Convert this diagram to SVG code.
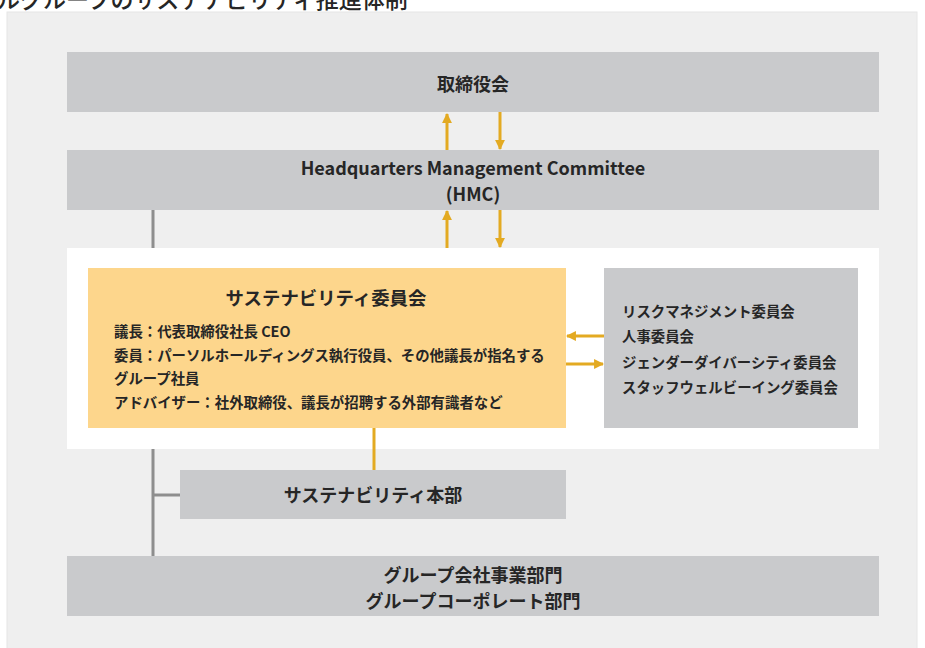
<svg xmlns="http://www.w3.org/2000/svg" width="925" height="648" viewBox="0 0 925 648">
<defs>
<style>
.box{fill:#c9cacc}
.t{font-family:"Noto Sans CJK JP","Liberation Sans",sans-serif;font-weight:bold;fill:#262626}
.lbl{font-size:18px;text-anchor:middle}
.body{font-size:14.4px}
.gline{stroke:#8e8e8e;stroke-width:3;fill:none}
.yline{stroke:#e3aa22;stroke-width:3;fill:none}
.arr{stroke:#e3aa22;stroke-width:3;fill:none;marker-end:url(#ah)}
</style>
<marker id="ah" viewBox="0 0 10 10" refX="9" refY="5" markerWidth="3.3" markerHeight="3.3" orient="auto" markerUnits="strokeWidth">
<path d="M0,0 L10,5 L0,10 Z" fill="#e3aa22"/>
</marker>
</defs>
<rect width="925" height="648" fill="#ffffff"/>
<text class="t" x="-3" y="7.5" style="font-size:23px;font-weight:500">ルグループのサステナビリティ推進体制</text>
<rect x="7" y="12" width="910" height="640" fill="#efefef" stroke="#e6e6e6" stroke-width="1"/>

<g id="connectors">
<line class="gline" x1="153" y1="210" x2="153" y2="556"/>
<line class="gline" x1="153" y1="495" x2="180" y2="495"/>
</g>

<g id="board">
<rect class="box" x="67" y="52" width="812" height="60"/>
<text class="t lbl" x="473" y="91">取締役会</text>
</g>
<g id="hmc">
<rect class="box" x="67" y="150" width="812" height="60"/>
<text class="t lbl" x="473" y="175">Headquarters Management Committee</text>
<text class="t lbl" x="473" y="201">(HMC)</text>
</g>
<g id="panel">
<rect x="67" y="248" width="812" height="201" fill="#ffffff"/>
</g>
<g id="sustainability-committee">
<rect x="88" y="268" width="478" height="160" fill="#fdd68c"/>
<text class="t" x="326" y="305" style="font-size:18.4px;text-anchor:middle">サステナビリティ委員会</text>
<text class="t body" x="114" y="337">議長：代表取締役社長 CEO</text>
<text class="t body" x="114" y="361">委員：パーソルホールディングス執行役員、その他議長が指名する</text>
<text class="t body" x="114" y="384">グループ社員</text>
<text class="t body" x="114" y="408">アドバイザー：社外取締役、議長が招聘する外部有識者など</text>
</g>
<g id="other-committees">
<rect class="box" x="604" y="268" width="254" height="160"/>
<text class="t body" x="622" y="317">リスクマネジメント委員会</text>
<text class="t body" x="622" y="342">人事委員会</text>
<text class="t body" x="622" y="368">ジェンダーダイバーシティ委員会</text>
<text class="t body" x="622" y="393">スタッフウェルビーイング委員会</text>
</g>
<g id="sustainability-hq">
<rect class="box" x="180" y="470" width="386" height="49"/>
<text class="t lbl" x="373" y="502">サステナビリティ本部</text>
</g>
<g id="group">
<rect class="box" x="67" y="556" width="812" height="60"/>
<text class="t lbl" x="473" y="582">グループ会社事業部門</text>
<text class="t lbl" x="473" y="608">グループコーポレート部門</text>
</g>

<g id="arrows">
<line class="arr" x1="447" y1="150" x2="447" y2="114"/>
<line class="arr" x1="500" y1="112" x2="500" y2="149"/>
<line class="arr" x1="447" y1="248" x2="447" y2="211"/>
<line class="arr" x1="500" y1="210" x2="500" y2="247"/>
<line class="arr" x1="604" y1="336" x2="567" y2="336"/>
<line class="arr" x1="566" y1="364" x2="603" y2="364"/>
<line class="yline" x1="374" y1="428" x2="374" y2="470"/>
</g>
</svg>
